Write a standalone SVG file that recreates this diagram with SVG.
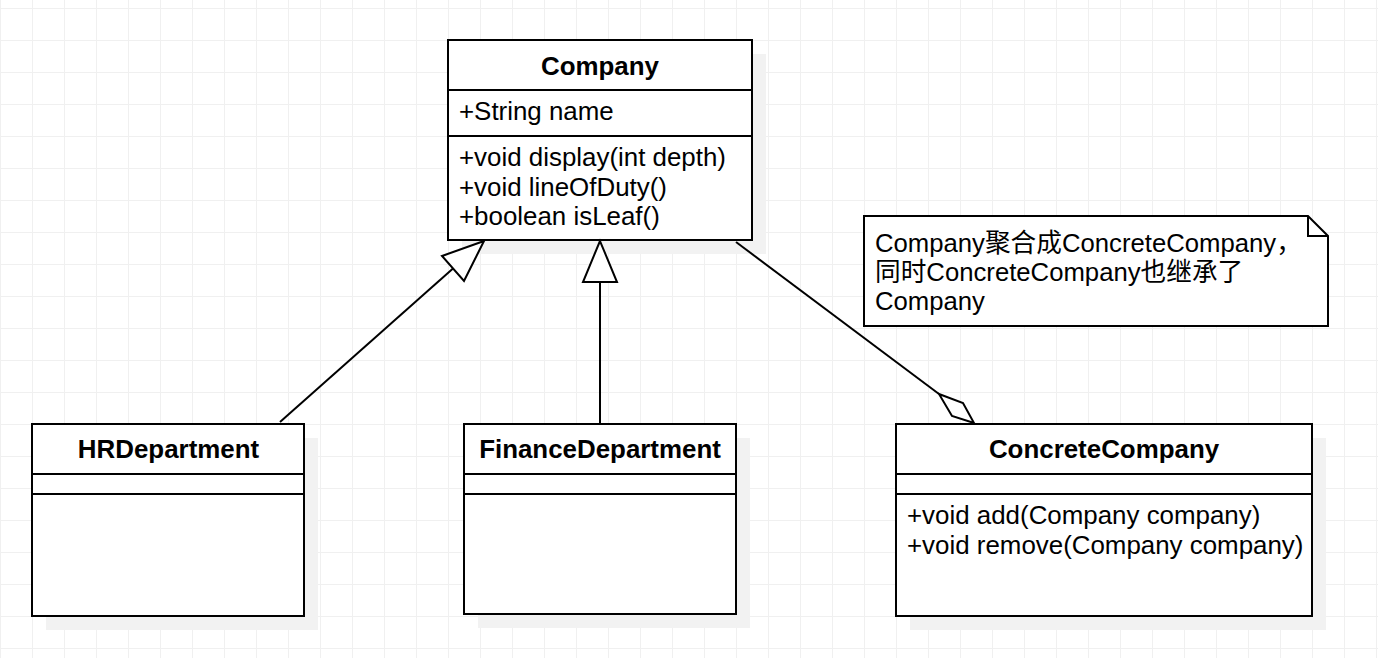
<svg xmlns="http://www.w3.org/2000/svg" width="1378" height="658" viewBox="0 0 1378 658">
<defs>
<pattern id="grid" x="0" y="8" width="32" height="32" patternUnits="userSpaceOnUse">
<path d="M0.5 0V32M0 0.5H32" fill="none" stroke="#f0f0f0" stroke-width="1"/>
</pattern>
<style>
.box{fill:#fff;stroke:#000;stroke-width:2}
.shadow{fill:#f2f2f2}
.div{stroke:#000;stroke-width:2}
.t{font-family:"Liberation Sans",Arial,"Noto Sans CJK SC",sans-serif;font-size:25.9px;fill:#000}
.n{font-size:25.7px}
.b{font-weight:bold;text-anchor:middle}
.c{fill:none;stroke:#000;stroke-width:2}
.h{fill:#fff;stroke:#000;stroke-width:2}
</style>
</defs>
<rect width="1378" height="658" fill="#fff"/>
<rect width="1378" height="658" fill="url(#grid)"/>

<g id="Company">
<rect class="shadow" x="462" y="54" width="304" height="200"/>
<rect class="box" x="448" y="40" width="304" height="200"/>
<line class="div" x1="448" y1="90" x2="752" y2="90"/>
<line class="div" x1="448" y1="136" x2="752" y2="136"/>
<text class="t b" x="600" y="75">Company</text>
<text class="t" x="459" y="120">+String name</text>
<text class="t" x="459" y="166">+void display(int depth)</text>
<text class="t" x="459" y="196">+void lineOfDuty()</text>
<text class="t" x="459" y="225">+boolean isLeaf()</text>
</g>

<g id="HRDepartment">
<rect class="shadow" x="46" y="438" width="272" height="192"/>
<rect class="box" x="32" y="424" width="272" height="192"/>
<line class="div" x1="32" y1="474" x2="304" y2="474"/>
<line class="div" x1="32" y1="494" x2="304" y2="494"/>
<text class="t b" x="168.5" y="458">HRDepartment</text>
</g>

<g id="FinanceDepartment">
<rect class="shadow" x="478" y="438" width="272" height="190"/>
<rect class="box" x="464" y="424" width="272" height="190"/>
<line class="div" x1="464" y1="474" x2="736" y2="474"/>
<line class="div" x1="464" y1="494" x2="736" y2="494"/>
<text class="t b" x="600" y="458">FinanceDepartment</text>
</g>

<g id="ConcreteCompany">
<rect class="shadow" x="910" y="438" width="416" height="192"/>
<rect class="box" x="896" y="424" width="416" height="192"/>
<line class="div" x1="896" y1="474" x2="1312" y2="474"/>
<line class="div" x1="896" y1="494" x2="1312" y2="494"/>
<text class="t b" x="1104" y="458">ConcreteCompany</text>
<text class="t" x="907" y="524">+void add(Company company)</text>
<text class="t" x="907" y="554">+void remove(Company company)</text>
</g>

<g id="Note">
<path class="box" d="M864 216H1308L1328 236V326H864Z"/>
<path class="c" d="M1308 216V236H1328"/>
<text class="t n" x="875" y="251.5">Company聚合成ConcreteCompany，</text>
<text class="t n" x="875" y="280.5">同时ConcreteCompany也继承了</text>
<text class="t n" x="875" y="310">Company</text>
</g>

<g id="connectors">
<line class="c" x1="280" y1="422" x2="453" y2="268.5"/>
<path class="h" d="M484 241L442 256L464 281Z"/>
<line class="c" x1="600" y1="424" x2="600" y2="282"/>
<path class="h" d="M600 241L583 282H617Z"/>
<line class="c" x1="736" y1="242" x2="939" y2="394"/>
<path class="h" d="M939 394L963 403L974 423L952 416Z"/>
</g>
</svg>
